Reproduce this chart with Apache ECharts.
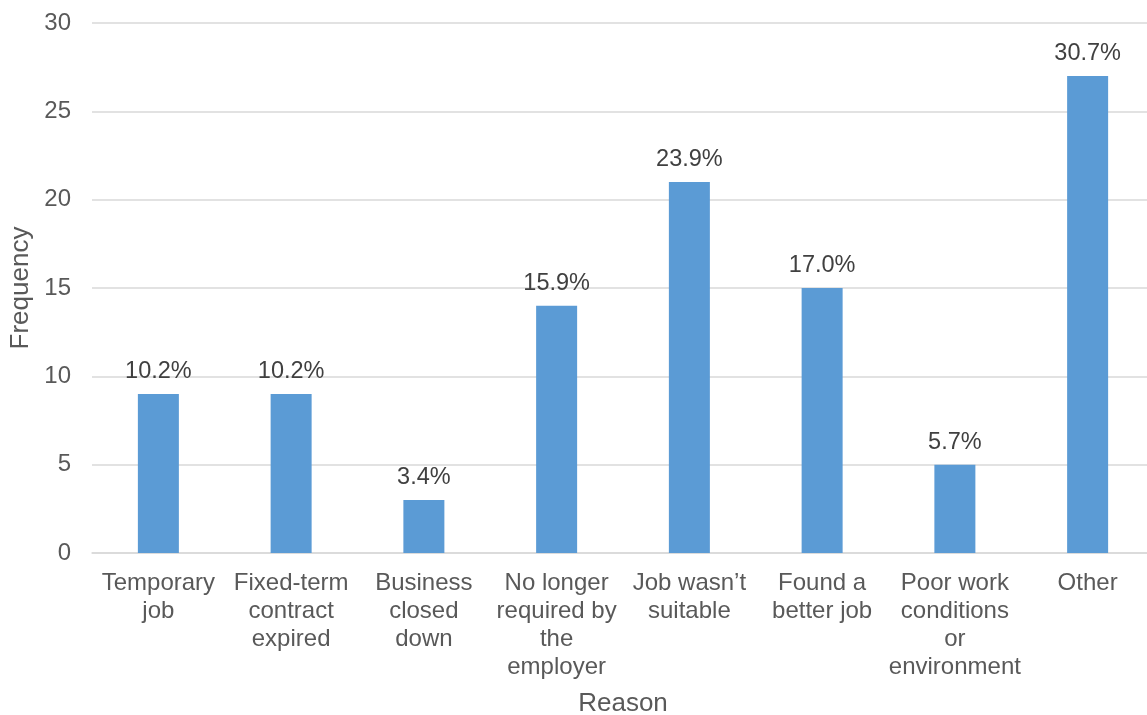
<!DOCTYPE html>
<html>
<head>
<meta charset="utf-8">
<script src="https://cdn.jsdelivr.net/npm/echarts@6/dist/echarts.min.js"></script>
<style>
  html, body { margin: 0; padding: 0; background: #fff; }
  #chart { width: 1147px; height: 715px; }
</style>
</head>
<body>
<div id="chart"></div>
<script>
// Reasons for leaving the last job
const reasons = [
  'Temporary\njob',
  'Fixed-term\ncontract\nexpired',
  'Business\nclosed\ndown',
  'No longer\nrequired by\nthe\nemployer',
  'Job wasn\u2019t\nsuitable',
  'Found a\nbetter job',
  'Poor work\nconditions\nor\nenvironment',
  'Other'
];
const frequency = [9, 9, 3, 14, 21, 15, 5, 27];
const percentLabels = ['10.2%', '10.2%', '3.4%', '15.9%', '23.9%', '17.0%', '5.7%', '30.7%'];
const yTicks = { min: 0, max: 30, interval: 5 };

const textColor = '#595959';
const font = '"Liberation Sans", Arial, sans-serif';

const chart = echarts.init(document.getElementById('chart'));
chart.setOption({
  animation: false,
  textStyle: { fontFamily: font },
  grid: {
    left: 92, top: 23, width: 1062, height: 530,
    containLabel: false, outerBoundsMode: 'none'
  },
  xAxis: {
    type: 'category',
    data: reasons,
    name: 'Reason',
    nameLocation: 'middle',
    nameGap: 138,
    nameTextStyle: { color: textColor, fontSize: 26, fontFamily: font },
    axisLine: { show: true, lineStyle: { color: '#d9d9d9', width: 1.5 } },
    axisTick: { show: false },
    axisLabel: {
      color: textColor, fontSize: 24, fontFamily: font,
      lineHeight: 28, margin: 16, interval: 0
    }
  },
  yAxis: {
    type: 'value',
    min: yTicks.min, max: yTicks.max, interval: yTicks.interval,
    name: 'Frequency',
    nameLocation: 'middle',
    nameGap: 58,
    nameRotate: 90,
    nameTextStyle: { color: textColor, fontSize: 26, fontFamily: font },
    axisLine: { show: false },
    axisTick: { show: false },
    axisLabel: { color: textColor, fontSize: 24, fontFamily: font, margin: 21 },
    splitLine: { lineStyle: { color: '#d9d9d9', width: 1.5 } }
  },
  series: [{
    type: 'bar',
    data: frequency,
    barWidth: 41,
    itemStyle: { color: '#5B9BD5' },
    label: {
      show: true,
      position: 'top',
      distance: 10,
      color: '#404040',
      fontSize: 23.5,
      fontFamily: font,
      formatter: p => percentLabels[p.dataIndex]
    }
  }]
});
</script>
</body>
</html>
